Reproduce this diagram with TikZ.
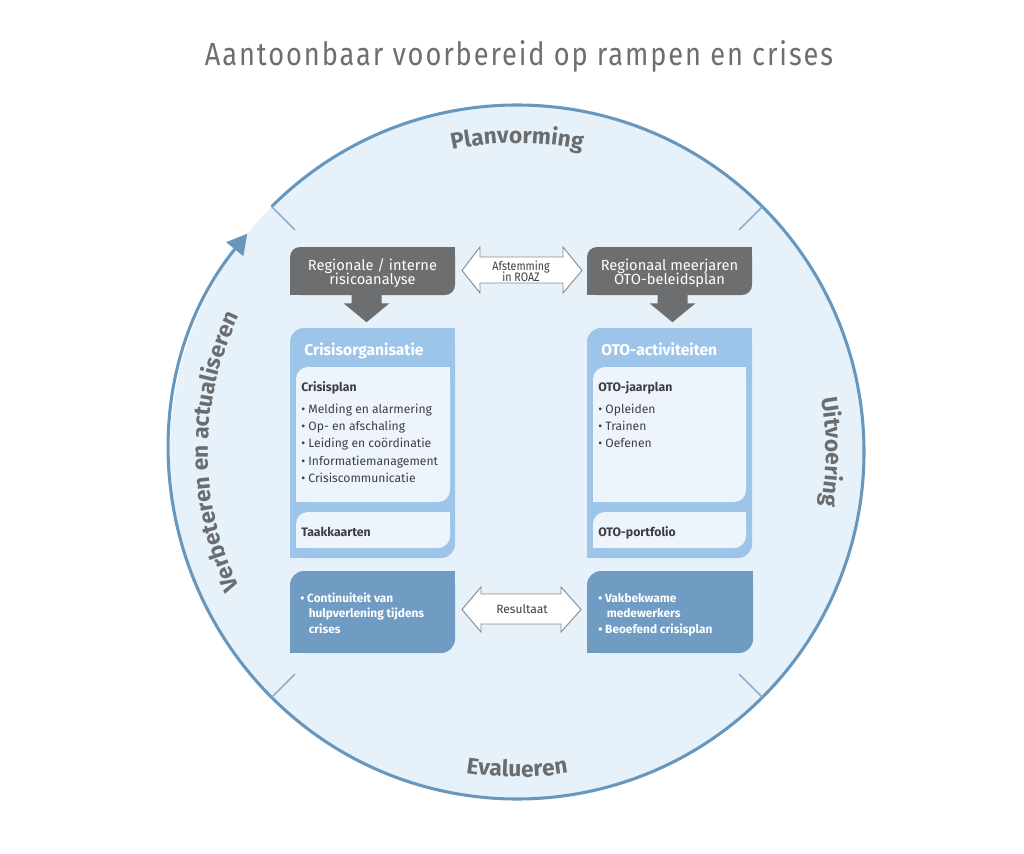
\documentclass[tikz,border=0pt]{standalone}
\usepackage{fontspec}
\setmainfont{Fira Sans}
\newfontfamily\cond[FakeStretch=0.87]{Fira Sans}
\newfontfamily\titlef[FakeStretch=0.85,LetterSpace=6]{Fira Sans}
\usetikzlibrary{arrows.meta,decorations.text,fit,calc}
\newcommand\tightlines{\lineskiplimit=-20pt\relax}
\definecolor{circfill}{HTML}{E6F1FA}
\definecolor{circline}{HTML}{6897BE}
\definecolor{tickc}{HTML}{8CADC9}
\definecolor{darkbox}{HTML}{6D6E70}
\definecolor{panel}{HTML}{9DC5EA}
\definecolor{inner}{HTML}{EEF4FB}
\definecolor{botbox}{HTML}{709CC3}
\definecolor{txtdark}{HTML}{3E3E40}
\definecolor{labgray}{HTML}{6B6C6E}
\definecolor{arrline}{HTML}{8A8B8D}
\newcommand\leafbx[7]{% name x1 y1 x2 y2 color radius(px)
  \fill[#6,rounded corners=#7*0.75pt] (#2,#3) rectangle (#4,#5);
  \fill[#6] (#4-#7,#3) rectangle (#4,#3+#7);
  \fill[#6] (#2,#5-#7) rectangle (#2+#7,#5);
  \node[inner sep=0pt,fit={(#2,#3)(#4,#5)}] (#1) {};}
\tikzset{
  darktext/.style={text=white,align=center,inner sep=0pt,font=\fontsize{11}{10.6}\selectfont\tightlines},
  headtext/.style={text=white,anchor=base west,inner sep=0pt,font=\bfseries\fontsize{11.7}{14}\selectfont},
  subhead/.style={text=txtdark,anchor=base west,inner sep=0pt,font=\bfseries\fontsize{9.2}{12}\selectfont},
  itemtext/.style={text=txtdark,anchor=base west,inner sep=0pt,font=\fontsize{9.1}{12}\selectfont},
  bottext/.style={text=white,anchor=base west,inner sep=0pt,font=\bfseries\fontsize{8.9}{12}\selectfont},
  arrtext/.style={text=txtdark,align=center,inner sep=0pt,font=\cond\fontsize{9.2}{8.3}\selectfont\tightlines},
  dblarrow/.style={fill=white,draw=arrline,line width=0.7pt,line join=miter},
  circlabel/.style={decorate,decoration={text along path,text align=center,text color=labgray,
     text={|\bfseries\fontsize{17}{20}\selectfont|#1}}}
}
\begin{document}
\begin{tikzpicture}[x=0.75pt,y=-0.75pt]
\useasboundingbox (0,0) rectangle (1024,853);
\fill[white] (0,0) rectangle (1024,853);
% title
\node[text=darkbox,font=\titlef\fontsize{24}{24}\selectfont,inner sep=0pt,anchor=base] (title) at (519,65) {Aantoonbaar voorbereid op rampen en crises};
% circle
\coordinate (c) at (517,452);
\fill[circfill] (c) circle[radius=347];
\fill[white] ($(c)+(216:349)$) arc[start angle=216,end angle=226,radius=349] -- cycle;
\draw[circline,line width=2.3pt,-{Triangle[length=15pt,width=16pt]}] ($(c)+(225:347)$) arc[start angle=225,end angle=579,radius=347];
\foreach \a in {225,315,45,135}
  \draw[tickc,line width=1.2pt] ($(c)+(\a:347)$) -- ($(c)+(\a:314)$);
% circle labels
\path[circlabel=Planvorming] ($(c)+(230:309)$) arc[start angle=230,end angle=310,radius=309];
\path[circlabel=Uitvoering] ($(c)+(-40:309)$) arc[start angle=-40,end angle=40,radius=309];
\path[circlabel=Evalueren] ($(c)+(130:325)$) arc[start angle=130,end angle=50,radius=325];
\path[circlabel=Verbeteren en actualiseren] ($(c)+(125:309)$) arc[start angle=125,end angle=235,radius=309];
% dark boxes
\leafbx{rbox}{290}{247}{455}{295}{darkbox}{10}
\leafbx{obox}{587}{247}{752}{295}{darkbox}{10}
\node[darktext] (rtxt) at (372.5,273) {Regionale / interne\\risicoanalyse};
\node[darktext] (otxt) at (669.5,273) {Regionaal meerjaren\\OTO-beleidsplan};
% down arrows
\fill[darkbox] ($(rbox.south)+(-21,-1)$) -- ($(rbox.south)+(9,-1)$) -- ($(rbox.south)+(9,8)$) -- ($(rbox.south)+(17,8)$) -- ($(rbox.south)+(-6,27)$) -- ($(rbox.south)+(-29,8)$) -- ($(rbox.south)+(-21,8)$) -- cycle;
\fill[darkbox] ($(obox.south)+(-12,-1)$) -- ($(obox.south)+(18,-1)$) -- ($(obox.south)+(18,8)$) -- ($(obox.south)+(26,8)$) -- ($(obox.south)+(3,27)$) -- ($(obox.south)+(-20,8)$) -- ($(obox.south)+(-12,8)$) -- cycle;
% panels
\leafbx{cpanel}{290}{328}{455}{558}{panel}{14}
\leafbx{opanel}{587}{328}{752}{558}{panel}{14}
\leafbx{cplan}{296}{367}{450}{502}{inner}{12}
\leafbx{ojaar}{593}{367}{746}{502}{inner}{12}
\leafbx{ctaak}{296}{512}{450}{548}{inner}{12}
\leafbx{oport}{593}{512}{746}{548}{inner}{12}
\node[headtext] (chead) at (304,355) {Crisisorganisatie};
\node[headtext] (ohead) at (601,355) {OTO-activiteiten};
\node[subhead] (cpl) at (301,391) {Crisisplan};
\node[subhead] (ojp) at (598,391) {OTO-jaarplan};
\node[itemtext] (ci1) at (301,413) {• Melding en alarmering};
\node[itemtext] (ci2) at (301,430) {• Op- en afschaling};
\node[itemtext] (ci3) at (301,447) {• Leiding en coördinatie};
\node[itemtext] (ci4) at (301,465) {• Informatiemanagement};
\node[itemtext] (ci5) at (301,482) {• Crisiscommunicatie};
\node[itemtext] (oi1) at (598,413) {• Opleiden};
\node[itemtext] (oi2) at (598,430) {• Trainen};
\node[itemtext] (oi3) at (598,447) {• Oefenen};
\node[subhead] (tk) at (301,536) {Taakkaarten};
\node[subhead] (op) at (598,536) {OTO-portfolio};
% bottom boxes
\leafbx{cres}{290}{571}{455}{653}{botbox}{14}
\leafbx{ores}{587}{571}{753}{653}{botbox}{14}
\node[bottext] (cr1) at (300,602) {• Continuiteit van};
\node[bottext] (cr2) at (308.5,617) {hulpverlening tijdens};
\node[bottext] (cr3) at (308.5,633) {crises};
\node[bottext] (or1) at (598,602) {• Vakbekwame};
\node[bottext] (or2) at (606.5,617) {medewerkers};
\node[bottext] (or3) at (598,633) {• Beoefend crisisplan};
% double arrows
\draw[dblarrow] (462,270.5) -- (480,247) -- (480,257) -- (563,257) -- (563,247) -- (582,270.5) -- (563,293) -- (563,283) -- (480,283) -- (480,293) -- cycle;
\node[arrtext] (afst) at (521,271) {Afstemming\\in ROAZ};
\draw[dblarrow] (462,609.5) -- (481,587) -- (481,594) -- (561,594) -- (561,587) -- (581,609.5) -- (561,632) -- (561,624) -- (481,624) -- (481,632) -- cycle;
\node[arrtext,font=\fontsize{9}{10}\selectfont] (res) at (522,609) {Resultaat};
\end{tikzpicture}
\end{document}
